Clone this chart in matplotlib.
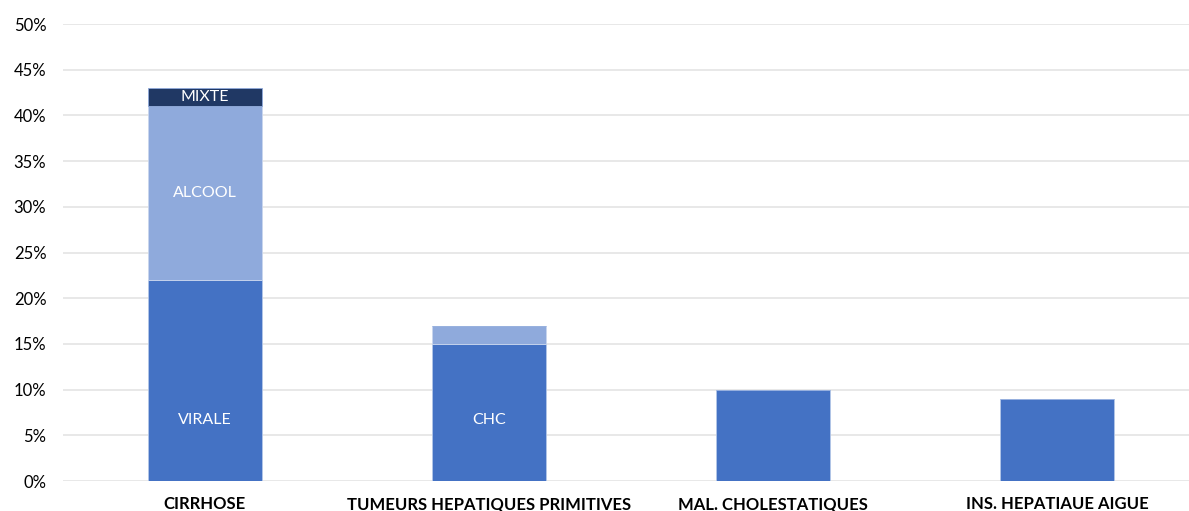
import matplotlib.pyplot as plt
from matplotlib.ticker import PercentFormatter

plt.rcParams['font.family'] = ['Lato', 'DejaVu Sans']

# données (%)
categories = ['CIRRHOSE', 'TUMEURS HEPATIQUES PRIMITIVES', 'MAL. CHOLESTATIQUES', 'INS. HEPATIAUE AIGUE']
base_vals = [22, 15, 10, 9]
mid_vals = [19, 2, 0, 0]
top_vals = [2, 0, 0, 0]
base_labels = ['VIRALE', 'CHC', '', '']
mid_labels = ['ALCOOL', '', '', '']
top_labels = ['MIXTE', '', '', '']

fig = plt.figure(figsize=(11.89, 5.11), dpi=100)
ax = fig.add_axes([63 / 1189, 1 - 481 / 511, 1136 / 1189, (481 - 24) / 511])

x = list(range(len(categories)))
w = 0.4
b1 = ax.bar(x, base_vals, w, color='#4472C4', edgecolor='#b4c7e7', linewidth=0.6, zorder=3)
b2 = ax.bar(x, mid_vals, w, bottom=base_vals, color='#8FAADC', edgecolor='#c9d6ee', linewidth=0.6, zorder=3)
top_bottom = [a + b for a, b in zip(base_vals, mid_vals)]
b3 = ax.bar(x, top_vals, w, bottom=top_bottom, color='#203864', edgecolor='#8FAADC', linewidth=0.6, zorder=3)

# étiquettes du segment du bas placées vers le bas (comme dans Excel)
for xi, lab in zip(x, base_labels):
    if lab:
        ax.text(xi, 6.7, lab, ha='center', va='center', color='white', fontsize=11.5, zorder=4)
for bars, labels in ((b2, mid_labels), (b3, top_labels)):
    ax.bar_label(bars, labels=labels, label_type='center', color='white', fontsize=11.5)

ax.set_xlim(-0.5, 3.5)
ax.set_ylim(0, 50)
ax.set_yticks(range(0, 51, 5))
ax.yaxis.set_major_formatter(PercentFormatter(decimals=0))
ax.set_xticks(x)
ax.set_xticklabels(categories, fontweight='bold', fontsize=12)
ax.tick_params(axis='y', length=0, labelsize=12, colors='#000000', pad=12)
ax.tick_params(axis='x', length=0, pad=11)

ax.grid(axis='y', color='#e4e4e4', linewidth=1.2, zorder=0)
for s in ax.spines.values():
    s.set_visible(False)

fig.savefig('out.png', dpi=100)
